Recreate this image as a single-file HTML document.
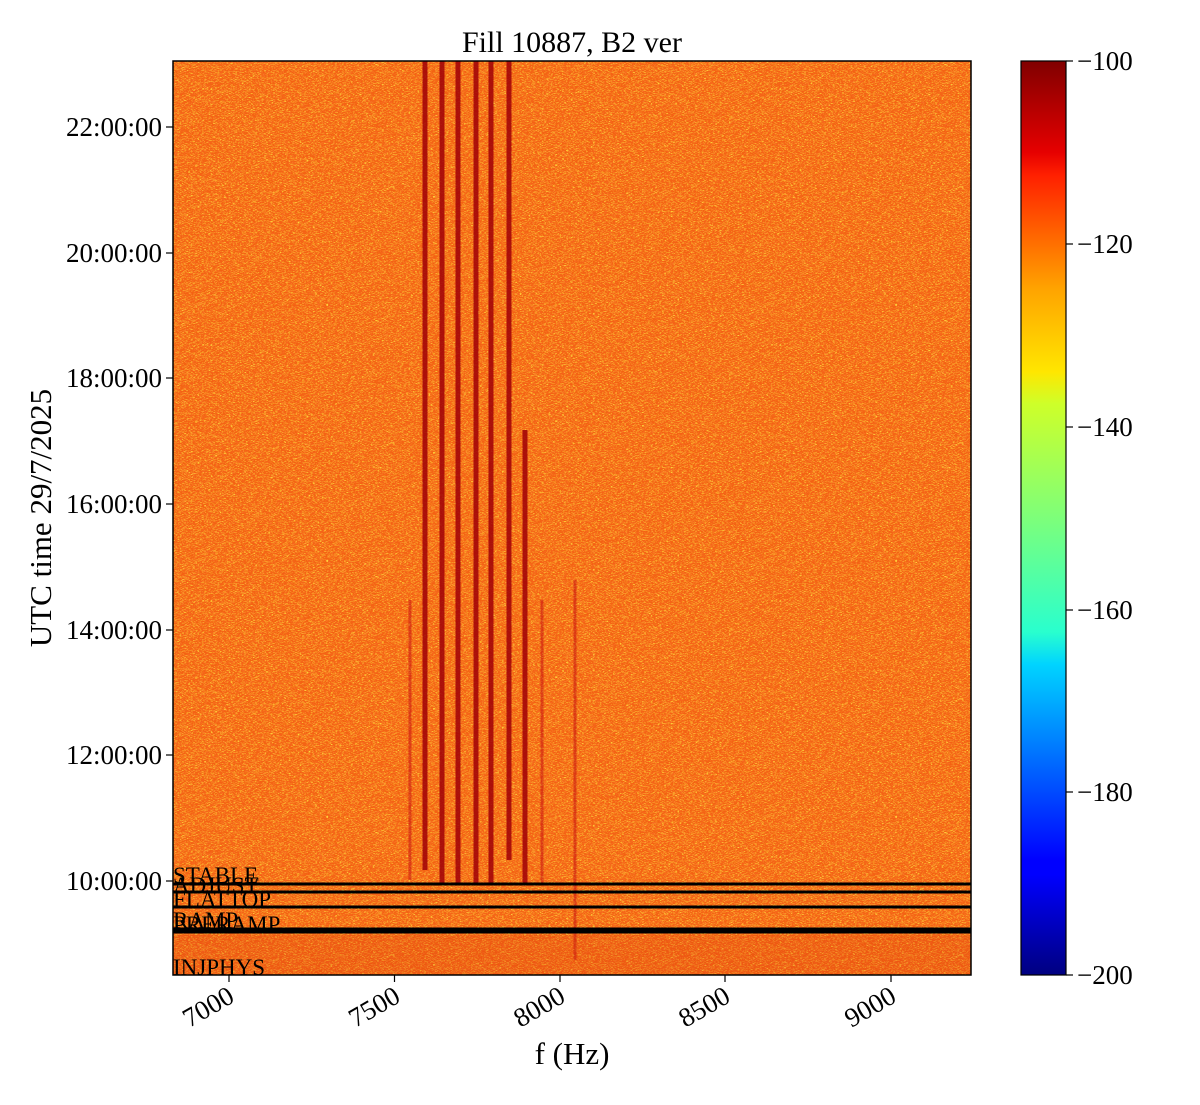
<!DOCTYPE html>
<html><head><meta charset="utf-8"><style>
body{margin:0;background:#fff;}
svg text{font-family:"Liberation Serif",serif;fill:#000;}
</style></head><body>
<svg width="1200" height="1100" viewBox="0 0 1200 1100" xmlns="http://www.w3.org/2000/svg">
<defs>
<filter id="n" x="0" y="0" width="100%" height="100%">
<feTurbulence type="fractalNoise" baseFrequency="0.45 3" numOctaves="2" seed="3"/>
<feColorMatrix type="matrix" values="0 0 0 0 1  0 0 0 0 0.75  0 0 0 0 0.05  3.2 0 0 0 -1.6"/>
</filter>
<filter id="m" x="0" y="0" width="100%" height="100%">
<feTurbulence type="fractalNoise" baseFrequency="0.4 2.6" numOctaves="2" seed="11"/>
<feColorMatrix type="matrix" values="0 0 0 0 0.93  0 0 0 0 0.15  0 0 0 0 0.02  3.2 0 0 0 -1.5"/>
</filter>
<linearGradient id="jet" x1="0" y1="1" x2="0" y2="0">
<stop offset="0" stop-color="#000080"/>
<stop offset="0.11" stop-color="#0000ff"/>
<stop offset="0.125" stop-color="#0000ff"/>
<stop offset="0.34" stop-color="#00d4ff"/>
<stop offset="0.375" stop-color="#29ffce"/>
<stop offset="0.5" stop-color="#7dff7a"/>
<stop offset="0.625" stop-color="#ceff29"/>
<stop offset="0.66" stop-color="#ffe600"/>
<stop offset="0.75" stop-color="#ffa400"/>
<stop offset="0.875" stop-color="#ff2000"/>
<stop offset="0.9" stop-color="#e60000"/>
<stop offset="1" stop-color="#800000"/>
</linearGradient>
</defs>
<text x="572" y="52" font-size="30" text-anchor="middle">Fill 10887, B2 ver</text>
<rect x="173" y="61" width="798" height="914" fill="#f46212"/>
<rect x="173" y="61" width="798" height="914" filter="url(#m)"/>
<rect x="173" y="61" width="798" height="914" filter="url(#n)"/>
<g stroke="#a00008" stroke-width="5" opacity="0.85">
<line x1="425" y1="61" x2="425" y2="870"/>
<line x1="442" y1="61" x2="442" y2="885"/>
<line x1="458" y1="61" x2="458" y2="885"/>
<line x1="476" y1="61" x2="476" y2="885"/>
<line x1="491" y1="61" x2="491" y2="885"/>
<line x1="509" y1="61" x2="509" y2="860"/>
<line x1="525" y1="430" x2="525" y2="885"/>
</g>
<g stroke="#c00010" stroke-width="3" opacity="0.45">
<line x1="542" y1="600" x2="542" y2="885"/>
<line x1="575" y1="580" x2="575" y2="960"/>
<line x1="410" y1="600" x2="410" y2="880"/>
</g>
<rect x="173" y="935" width="798" height="40" fill="#d83008" opacity="0.2"/>
<g stroke="#000" stroke-width="3">
<line x1="173" y1="884" x2="971" y2="884"/>
<line x1="173" y1="892" x2="971" y2="892"/>
<line x1="173" y1="907" x2="971" y2="907"/>
<line x1="173" y1="929" x2="971" y2="929"/>
<line x1="173" y1="932" x2="971" y2="932"/>
</g>
<g font-size="23">
<text x="173" y="883">STABLE</text>
<text x="173" y="893">ADJUST</text>
<text x="173" y="907">FLATTOP</text>
<text x="173" y="928">RAMP</text>
<text x="173" y="932">PRERAMP</text>
<text x="173" y="975">INJPHYS</text>
</g>
<rect x="173" y="61" width="798" height="914" fill="none" stroke="#000" stroke-width="1.5"/>
<g stroke="#000" stroke-width="1.2">
<line x1="229" y1="975" x2="229" y2="982"/><line x1="394.5" y1="975" x2="394.5" y2="982"/>
<line x1="560" y1="975" x2="560" y2="982"/><line x1="725" y1="975" x2="725" y2="982"/>
<line x1="891" y1="975" x2="891" y2="982"/>
<line x1="166" y1="127" x2="173" y2="127"/><line x1="166" y1="253" x2="173" y2="253"/>
<line x1="166" y1="378" x2="173" y2="378"/><line x1="166" y1="504" x2="173" y2="504"/>
<line x1="166" y1="630" x2="173" y2="630"/><line x1="166" y1="755" x2="173" y2="755"/>
<line x1="166" y1="881" x2="173" y2="881"/>
</g>
<g font-size="27" text-anchor="end">
<text transform="translate(236,1001) rotate(-30)">7000</text>
<text transform="translate(402,1001) rotate(-30)">7500</text>
<text transform="translate(567,1001) rotate(-30)">8000</text>
<text transform="translate(732,1001) rotate(-30)">8500</text>
<text transform="translate(898,1001) rotate(-30)">9000</text>
</g>
<g font-size="27" text-anchor="end">
<text x="162" y="136">22:00:00</text><text x="162" y="262">20:00:00</text>
<text x="162" y="387">18:00:00</text><text x="162" y="513">16:00:00</text>
<text x="162" y="639">14:00:00</text><text x="162" y="764">12:00:00</text>
<text x="162" y="890">10:00:00</text>
</g>
<text x="572" y="1064" font-size="31" text-anchor="middle">f (Hz)</text>
<text transform="translate(51,518) rotate(-90)" font-size="31" text-anchor="middle">UTC time 29/7/2025</text>
<rect x="1021" y="61" width="45" height="914" fill="url(#jet)" stroke="#000" stroke-width="1.2"/>
<g stroke="#000" stroke-width="1.2">
<line x1="1066" y1="61" x2="1073" y2="61"/><line x1="1066" y1="244" x2="1073" y2="244"/>
<line x1="1066" y1="427" x2="1073" y2="427"/><line x1="1066" y1="610" x2="1073" y2="610"/>
<line x1="1066" y1="792" x2="1073" y2="792"/><line x1="1066" y1="975" x2="1073" y2="975"/>
</g>
<g font-size="27">
<text x="1077" y="70">−100</text><text x="1077" y="253">−120</text>
<text x="1077" y="436">−140</text><text x="1077" y="619">−160</text>
<text x="1077" y="801">−180</text><text x="1077" y="984">−200</text>
</g>
</svg>
</body></html>
